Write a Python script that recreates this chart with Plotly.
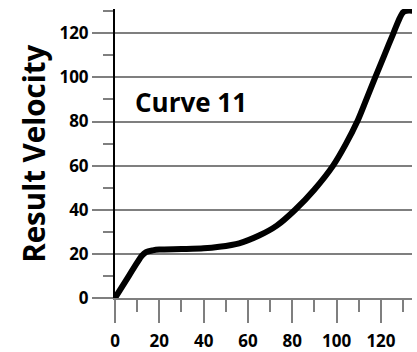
import plotly.graph_objects as go

# curve 11
key_vel = [0, 5, 10, 12, 14, 17, 20, 30, 40, 47, 56, 65, 73, 81.3, 90, 98.4, 104, 109.3,
           113.5, 117.4, 121.5, 125.6, 128.5, 130, 131.5, 135]
result_vel = [0, 8, 16, 19, 20.8, 21.6, 22, 22.2, 22.5, 23.2, 24.8, 28.3, 32.8, 40, 49.2, 60,
              69.5, 80, 90.3, 100, 110, 120, 127, 129.5, 130.2, 130.2]

x_ticks = [0, 20, 40, 60, 80, 100, 120]
y_ticks = [0, 20, 40, 60, 80, 100, 120]

FONT = "Open Sans"
GRID = "#7f7f7f"

fig = go.Figure()

fig.add_trace(go.Scatter(
    x=key_vel,
    y=result_vel,
    mode="lines",
    line=dict(color="black", width=6, shape="spline", smoothing=0.8),
    hoverinfo="skip",
))

fig.update_layout(
    width=417,
    height=352,
    margin=dict(l=115, r=5, t=9, b=54, autoexpand=False),
    plot_bgcolor="white",
    paper_bgcolor="white",
    showlegend=False,
    font=dict(family=FONT, size=17, color="black", weight="bold"),
    xaxis=dict(
        range=[0, 134],
        tickvals=x_ticks,
        automargin=False,
        showgrid=False,
        zeroline=False,
        showline=True,
        linecolor=GRID,
        linewidth=1.5,
        ticks="outside",
        ticklen=23,
        tickwidth=1.5,
        tickcolor=GRID,
        ticklabelstandoff=4,
        minor=dict(ticks="outside", ticklen=12, tickwidth=1.5, tickcolor=GRID,
                   dtick=10, tick0=0),
        tickfont=dict(family=FONT, size=17, weight="bold"),
    ),
    yaxis=dict(
        range=[0, 131],
        tickvals=y_ticks,
        automargin=False,
        showgrid=True,
        gridcolor=GRID,
        gridwidth=1.5,
        zeroline=False,
        showline=True,
        linecolor="black",
        linewidth=2,
        ticks="outside",
        ticklen=21,
        tickwidth=1.5,
        tickcolor=GRID,
        minor=dict(ticks="outside", ticklen=10, tickwidth=1.5, tickcolor=GRID,
                   dtick=10, tick0=0, showgrid=False),
        tickfont=dict(family=FONT, size=17, weight="bold"),
    ),
    annotations=[
        dict(text="Curve 11", x=8, y=88.8, xref="x", yref="y",
             xanchor="left", yanchor="middle", showarrow=False,
             font=dict(family=FONT, size=26, weight="bold")),
        dict(text="Result Velocity", x=-0.275, y=0.5, xref="paper", yref="paper",
             xanchor="center", yanchor="middle", textangle=-90, showarrow=False,
             font=dict(family=FONT, size=29.5, weight="bold")),
    ],
)

# page body has a default 8px margin; drop it so the figure sits at the corner
fig.write_html("out.html", config={"displayModeBar": False},
               post_script="document.body.style.margin='0';")
